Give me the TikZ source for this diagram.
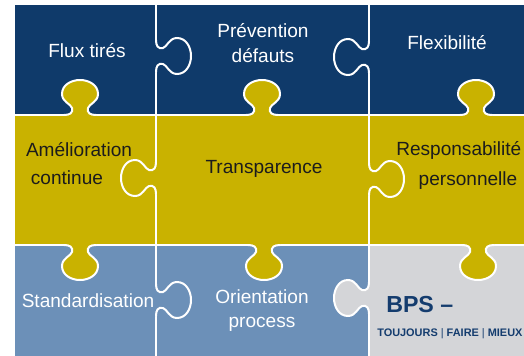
\documentclass[tikz,border=0pt]{standalone}
\usepackage{fontspec}
\setmainfont{Liberation Sans}
\usepackage{tikz}

\definecolor{navy}{HTML}{0F3A6A}
\definecolor{mustard}{HTML}{C9B200}
\definecolor{steel}{HTML}{6C90B8}
\definecolor{silver}{HTML}{D4D5D8}
\definecolor{ink}{HTML}{1C1C1C}
\definecolor{bpsblue}{HTML}{143C6E}

% outline of one tab, base on the x axis, bulb towards +y
\newcommand{\knobpath}{.. controls (-10,0) and (-7,2) .. (-8,7)
  .. controls (-9,11) and (-18,13) .. (-18,21)
  .. controls (-18,30) and (-9,35) .. (0,35)
  .. controls (9,35) and (18,30) .. (18,21)
  .. controls (18,13) and (9,11) .. (8,7)
  .. controls (7,2) and (10,0) .. (16,0)}

\tikzset{
  seam/.style={white, line width=1.5pt, line cap=round},
  pics/knob/.style={code={
    \fill[#1] (-16,-1.5) -- (-16,0) \knobpath -- (16,-1.5) -- cycle;
    \draw[seam] (-16,0) \knobpath;
  }},
  piecetext/.style={anchor=base, inner sep=0pt, font=\fontsize{14.3}{17}\selectfont},
  ontop/.style={piecetext, text=white},
  onyellow/.style={piecetext, text=ink},
}

\begin{document}
\begin{tikzpicture}[x=0.75pt, y=0.75pt]
  \useasboundingbox (0,0) rectangle (524,355);
  \clip (0,0) rectangle (524,355);
  % pieces
  \fill[navy] (14,240) rectangle (530,351);
  \fill[mustard] (14,110) rectangle (530,240);
  \fill[steel] (14,-5) rectangle (369,110);
  \fill[silver] (369,-5) rectangle (530,110);
  % seams
  \draw[seam] (14,-5) -- (14,351) -- (530,351);
  \draw[seam] (14,240) -- (530,240);
  \draw[seam] (14,110) -- (530,110);
  \draw[seam] (156,-5) -- (156,351);
  \draw[seam] (369,-5) -- (369,351);
  % tabs
  \pic at (80,240) {knob=mustard};
  \pic at (262,240) {knob=mustard};
  \pic at (476,240) {knob=mustard};
  \pic[rotate=180] at (80,110) {knob=mustard};
  \pic[rotate=180] at (264,110) {knob=mustard};
  \pic[rotate=180] at (478,110) {knob=mustard};
  \pic[rotate=-90] at (156,299) {knob=navy};
  \pic[rotate=90] at (369,298) {knob=navy};
  \pic[rotate=90] at (156,177) {knob=mustard};
  \pic[rotate=-90] at (369,176) {knob=mustard};
  \pic[rotate=-90] at (156,55) {knob=steel};
  \pic[rotate=90] at (369,57) {knob=silver};
  % texts
  \node[ontop] (flux) at (87,298) {Flux tirés};
  \node[ontop] (prev) at (263,318) {Prévention};
  \node[ontop] (defa) at (263,293) {défauts};
  \node[ontop] (flex) at (447,306) {Flexibilité};
  \node[onyellow] (amel) at (79,199) {Amélioration};
  \node[onyellow] (cont) at (67,171) {continue};
  \node[onyellow] (trans) at (264,182) {Transparence};
  \node[onyellow, anchor=base west] (resp) at (396,200) {Responsabilité};
  \node[onyellow] (pers) at (468,170) {personnelle};
  \node[ontop] (stand) at (88,48) {Standardisation};
  \node[ontop] (orie) at (262,52) {Orientation};
  \node[ontop] (proc) at (262,28) {process};
  \node[anchor=base west, inner sep=0pt, text=bpsblue,
    font=\fontsize{17.4}{20}\selectfont\bfseries] (bps) at (386,43) {BPS –};
  \node[anchor=base west, inner sep=0pt, text=bpsblue,
    font=\fontsize{8.2}{10}\selectfont\bfseries] (motto) at (377,18.5)
    {TOUJOURS {\mdseries|} FAIRE {\mdseries|} MIEUX};
\end{tikzpicture}
\end{document}
